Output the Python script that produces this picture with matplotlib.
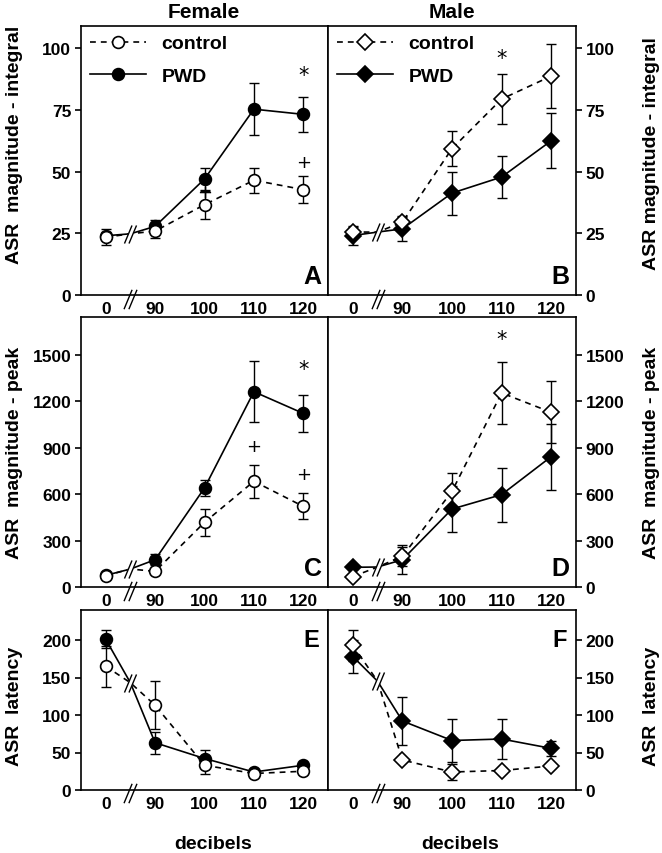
import numpy as np
import matplotlib
matplotlib.use('Agg')
import matplotlib.pyplot as plt
from matplotlib.path import Path

plt.rcParams['font.family'] = ['Liberation Sans', 'DejaVu Sans']
plt.rcParams['font.weight'] = 'bold'

x_labels = ['0', '90', '100', '110', '120']

# integral, female / male
f_int_ctl = [23.4, 25.9, 36.6, 46.5, 42.7]
f_int_ctl_err = [3.3, 2.7, 5.7, 5.1, 5.5]
f_int_pwd = [24.0, 27.8, 47.0, 75.3, 73.2]
f_int_pwd_err = [1.5, 2.4, 4.3, 10.5, 7.2]
m_int_ctl = [25.5, 29.5, 59.3, 79.4, 88.7]
m_int_ctl_err = [2.0, 2.5, 7.0, 10.0, 13.0]
m_int_pwd = [24.1, 26.8, 41.3, 47.8, 62.5]
m_int_pwd_err = [4.0, 4.8, 8.7, 8.5, 11.2]

# peak
f_pk_ctl = [73, 101, 417, 682, 520]
f_pk_ctl_err = [10, 10, 86, 105, 84]
f_pk_pwd = [75, 176, 639, 1260, 1120]
f_pk_pwd_err = [10, 37, 50, 195, 118]
m_pk_ctl = [67, 198, 617, 1252, 1127]
m_pk_ctl_err = [10, 62, 118, 202, 200]
m_pk_pwd = [127, 176, 503, 596, 841]
m_pk_pwd_err = [10, 92, 150, 174, 213]

# latency
f_lat_ctl = [165, 113, 33, 22, 25]
f_lat_ctl_err = [27, 32, 11, 3, 3]
f_lat_pwd = [201, 63, 42, 24, 33]
f_lat_pwd_err = [12, 15, 11, 3, 3]
m_lat_ctl = [193, 40, 24, 26, 32]
m_lat_ctl_err = [21, 3, 11, 3, 3]
m_lat_pwd = [178, 92, 66, 68, 55.5]
m_lat_pwd_err = [22, 32, 29, 27, 10]

# where the lines cross the axis break
break_levels = [24.8, 25.5, 116, 129, 143, 145]

# significance marks: (panel, x index, y, symbol)
marks = [(0, 4, 89, '*'), (0, 4, 54, '+'), (0, 2, 41.7, '+'),
         (1, 3, 96, '*'),
         (2, 4, 1406, '*'), (2, 3, 912, '+'), (2, 4, 729, '+'),
         (3, 3, 1600, '*')]

# break marker: two slashes, with a white gap between them
slash = Path([(-0.4, -0.6), (0.1, 0.6), (-0.1, -0.6), (0.4, 0.6)],
             [Path.MOVETO, Path.LINETO, Path.MOVETO, Path.LINETO])
gap = Path([(-0.4, -0.6), (-0.1, -0.6), (0.4, 0.6), (0.1, 0.6), (-0.4, -0.6)],
           [Path.MOVETO, Path.LINETO, Path.LINETO, Path.LINETO, Path.CLOSEPOLY])

W, H = 662, 854
fig = plt.figure(figsize=(W / 100, H / 100), dpi=100)

cols = [81, 328]
col_w = 247
rows = [(27, 296), (318, 588), (611, 791)]

panels = [
    (f_int_ctl, f_int_ctl_err, f_int_pwd, f_int_pwd_err, 'o', (0, 109), [0, 25, 50, 75, 100], 'ASR  magnitude - integral', 'A'),
    (m_int_ctl, m_int_ctl_err, m_int_pwd, m_int_pwd_err, 'D', (0, 109), [0, 25, 50, 75, 100], 'ASR magnitude - integral', 'B'),
    (f_pk_ctl, f_pk_ctl_err, f_pk_pwd, f_pk_pwd_err, 'o', (0, 1742), [0, 300, 600, 900, 1200, 1500], 'ASR  magnitude - peak', 'C'),
    (m_pk_ctl, m_pk_ctl_err, m_pk_pwd, m_pk_pwd_err, 'D', (0, 1742), [0, 300, 600, 900, 1200, 1500], 'ASR  magnitude - peak', 'D'),
    (f_lat_ctl, f_lat_ctl_err, f_lat_pwd, f_lat_pwd_err, 'o', (0, 240), [0, 50, 100, 150, 200], 'ASR  latency', 'E'),
    (m_lat_ctl, m_lat_ctl_err, m_lat_pwd, m_lat_pwd_err, 'D', (0, 240), [0, 50, 100, 150, 200], 'ASR  latency', 'F'),
]
ylabel_y = [0.56, 0.53, 0.5, 0.5, 0.47, 0.47]

xi = np.arange(len(x_labels))
axes = []
for i, (ctl, ctl_e, pwd, pwd_e, mk, ylim, yt, ylab, letter) in enumerate(panels):
    r, c = divmod(i, 2)
    top, bot = rows[r]
    ax = fig.add_axes([cols[c] / W, 1 - bot / H, (col_w + c) / W, (bot - top) / H])
    axes.append(ax)
    ms = 8.5

    b = break_levels[i]
    for vals, err, ls, fc, lab, z in [(pwd, pwd_e, '-', 'black', 'PWD', 3),
                                      (ctl, ctl_e, (0, (3.5, 3)), 'white', 'control', 4)]:
        xs = np.concatenate([[0, 0.5], xi[1:]])
        ys = np.concatenate([[vals[0], b], vals[1:]])
        ax.plot(xs, ys, color='black', lw=1.2, ls=ls, zorder=z)
        ax.errorbar(xi, vals, yerr=err, fmt='none', ecolor='black', elinewidth=1.0,
                    capsize=3.5, capthick=1.0, zorder=z)
        ax.plot(xi, vals, ls='none', marker=mk, ms=ms, mfc=fc, mec='black', mew=1.2, zorder=z + 0.5)
        ax.plot([], [], color='black', lw=1.2, ls=ls, marker=mk, ms=ms, mfc=fc, mec='black',
                mew=1.2, label=lab)

    # break on the lines
    ax.plot(0.5, b, ls='none', marker=gap, ms=13, mfc='white', mec='white', mew=0.5, zorder=6)
    ax.plot(0.5, b, ls='none', marker=slash, ms=13, mec='black', mew=1.0, zorder=7)
    # break on the x axis
    ax.plot(0.5, ylim[0] - 0.015 * (ylim[1] - ylim[0]), ls='none', marker=slash, ms=14,
            mec='black', mew=1.0, clip_on=False, zorder=7)

    ax.set_xlim(-0.5, 4.5)
    ax.set_ylim(*ylim)
    ax.set_xticks(xi)
    ax.set_xticklabels(x_labels)
    ax.set_yticks(yt)
    ax.tick_params(axis='x', length=0, pad=4, labelsize=12.5)
    ax.tick_params(axis='y', direction='out', length=4.5, width=1.2, labelsize=12.5, pad=2.5)
    for s in ax.spines.values():
        s.set_linewidth(1.2)

    if c == 1:
        ax.yaxis.tick_right()
        ax.yaxis.set_label_position('right')
        ax.set_ylabel(ylab, fontsize=14, fontweight='bold', rotation=90)
        ax.yaxis.set_label_coords(1.272, ylabel_y[i])
    else:
        ax.set_ylabel(ylab, fontsize=14, fontweight='bold')
        ax.yaxis.set_label_coords(-0.235, ylabel_y[i])

    if r < 2:
        ax.text(0.975, 0.025, letter, transform=ax.transAxes, ha='right', va='bottom',
                fontsize=18, fontweight='bold')
    else:
        ax.text(0.965, 0.9, letter, transform=ax.transAxes, ha='right', va='top',
                fontsize=17, fontweight='bold')

    if r == 0:
        handles, labels = ax.get_legend_handles_labels()
        leg = ax.legend(handles[::-1], labels[::-1], loc='upper left', frameon=False,
                        fontsize=14, handlelength=2.9, handletextpad=0.8, labelspacing=0.75,
                        numpoints=1, borderaxespad=0.2, borderpad=0.25)

for p, x, y, s in marks:
    axes[p].text(x, y, s, ha='center', va='center', fontsize=15 if s == '*' else 13,
                 fontweight='normal', family='DejaVu Sans')

fig.text(204 / W, 1 - 12 / H, 'Female', ha='center', va='center', fontsize=15, fontweight='bold')
fig.text(452 / W, 1 - 12 / H, 'Male', ha='center', va='center', fontsize=15, fontweight='bold')
fig.text(213 / W, 1 - 845 / H, 'decibels', ha='center', va='center', fontsize=14, fontweight='bold')
fig.text(460 / W, 1 - 845 / H, 'decibels', ha='center', va='center', fontsize=14, fontweight='bold')

fig.savefig('out.png', dpi=100)
